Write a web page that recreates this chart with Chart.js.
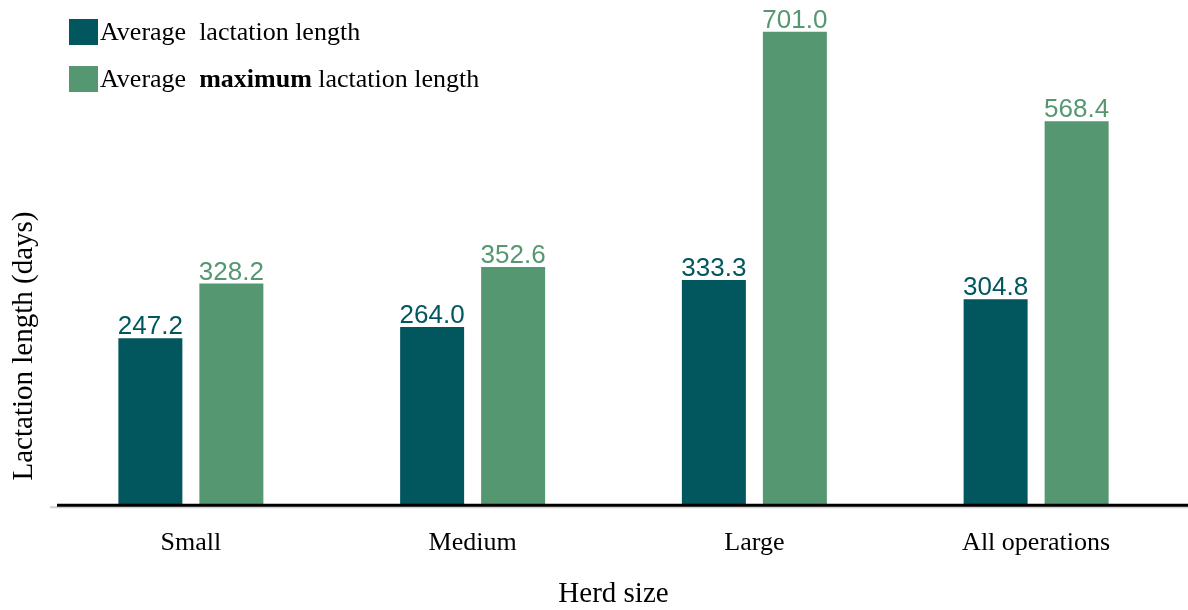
<!DOCTYPE html>
<html>
<head>
<meta charset="utf-8">
<script src="https://cdn.jsdelivr.net/npm/chart.js@4/dist/chart.umd.min.js"></script>
<style>
  html, body { margin: 0; padding: 0; background: #fff; }
  #wrap { position: relative; width: 1188px; height: 610px; }
  #legend { position: absolute; left: 69px; top: 19px; font-family: "Liberation Serif", "Times New Roman", serif; font-size: 26px; color: #000; }
  .item { position: relative; height: 47px; white-space: pre; }
  .box { position: absolute; left: 0; top: 0; width: 29px; height: 26px; }
  .txt { position: absolute; left: 31px; top: -2px; line-height: 30px; }
</style>
</head>
<body>
<div id="wrap">
  <canvas id="herdChart" width="1188" height="610"></canvas>
  <div id="legend">
    <div class="item"><span class="box" style="background:#02575E"></span><span class="txt">Average  lactation length</span></div>
    <div class="item"><span class="box" style="background:#549771"></span><span class="txt">Average  <b>maximum</b> lactation length</span></div>
  </div>
</div>
<script>
// data
const herdSizes = ["Small", "Medium", "Large", "All operations"];
const avgLactation = [247.2, 264.0, 333.3, 304.8];
const avgMaxLactation = [328.2, 352.6, 701.0, 568.4];

const darkTeal = "#02575E";
const green = "#549771";

// value labels above each bar
const valueLabels = {
  id: "valueLabels",
  afterDatasetsDraw(chart) {
    const c = chart.ctx;
    c.save();
    c.font = '26px "Liberation Sans", Arial, sans-serif';
    c.textAlign = "center";
    c.textBaseline = "alphabetic";
    chart.data.datasets.forEach((ds, i) => {
      c.fillStyle = ds.backgroundColor;
      chart.getDatasetMeta(i).data.forEach((bar, j) => {
        c.fillText(ds.data[j].toFixed(1), bar.x, bar.y - 4);
      });
    });
    c.restore();
  }
};

// y title (off-centre like the original) and the baseline running to the edge
const extras = {
  id: "extras",
  afterDraw(chart) {
    const c = chart.ctx;
    const a = chart.chartArea;
    c.save();
    c.strokeStyle = "#d0d0d0";
    c.lineWidth = 2;
    c.beginPath();
    c.moveTo(a.left, a.bottom + 2);
    c.lineTo(chart.width, a.bottom + 2);
    c.stroke();
    c.strokeStyle = "#000";
    c.lineWidth = 3;
    c.beginPath();
    c.moveTo(a.left + 7, a.bottom);
    c.lineTo(chart.width, a.bottom);
    c.stroke();

    c.translate(24, 346);
    c.rotate(-Math.PI / 2);
    c.font = '29px "Liberation Serif", "Times New Roman", serif';
    c.fillStyle = "#000";
    c.textAlign = "center";
    c.textBaseline = "middle";
    c.fillText("Lactation length (days)", 0, 0);
    c.restore();
  }
};

const ctx = document.getElementById("herdChart").getContext("2d");
const herdChart = new Chart(ctx, {
  type: 'bar',
  data: {
    labels: herdSizes,
    datasets: [
      { label: "Average lactation length", data: avgLactation, backgroundColor: darkTeal,
        categoryPercentage: 0.575, barPercentage: 0.79 },
      { label: "Average maximum lactation length", data: avgMaxLactation, backgroundColor: green,
        categoryPercentage: 0.575, barPercentage: 0.79 }
    ]
  },
  options: {
    animation: false,
    responsive: false,
    layout: { padding: { left: 50, right: 11, top: 0, bottom: 0 } },
    plugins: {
      legend: { display: false },
      tooltip: { enabled: false }
    },
    scales: {
      x: {
        grid: { display: false, drawTicks: false },
        border: { display: false },
        ticks: {
          color: "#000", padding: 22,
          font: { family: '"Liberation Serif", "Times New Roman", serif', size: 26 }
        },
        title: {
          display: true, text: "Herd size", color: "#000",
          padding: { top: 0, bottom: 2 },
          font: { family: '"Liberation Serif", "Times New Roman", serif', size: 29, lineHeight: 0.95 }
        }
      },
      y: {
        display: false,
        min: 0,
        max: 748
      }
    }
  },
  plugins: [valueLabels, extras]
});
</script>
</body>
</html>
